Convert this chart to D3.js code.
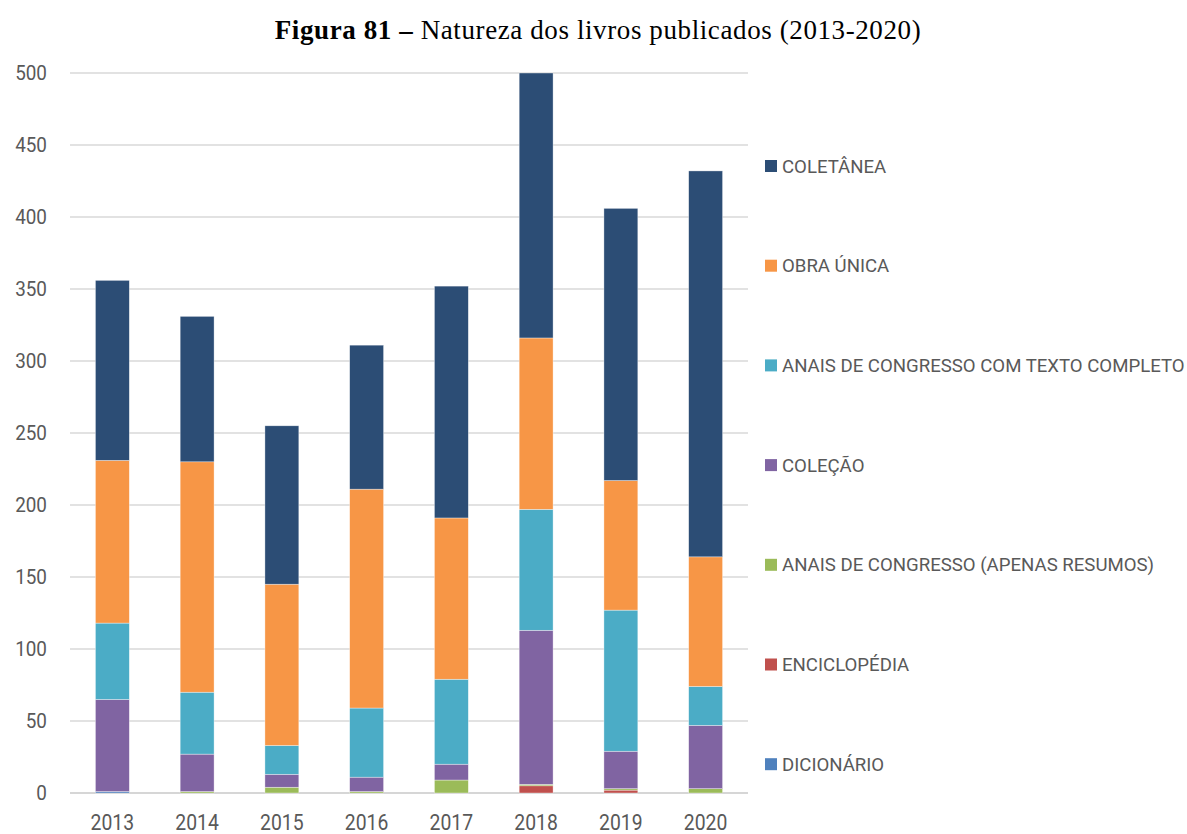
<!DOCTYPE html>
<html><head><meta charset="utf-8">
<script src="https://cdn.jsdelivr.net/npm/d3@7"></script>
<style>body{margin:0;background:#fff}</style>
</head><body>
<svg id="c" width="1187" height="834"></svg>
<script>
const years = ["2013","2014","2015","2016","2017","2018","2019","2020"];
const seriesNames = ["DICIONÁRIO","ENCICLOPÉDIA","ANAIS DE CONGRESSO (APENAS RESUMOS)","COLEÇÃO","ANAIS DE CONGRESSO COM TEXTO COMPLETO","OBRA ÚNICA","COLETÂNEA"];
const dicionario   = [1,0,0,0,0,0,0,0];
const enciclopedia = [0,0,0,0,0,5,2,0];
const anaisResumos = [0,1,4,1,9,1,1,3];
const colecao      = [64,26,9,10,11,107,26,44];
const anaisTexto   = [53,43,20,48,59,84,98,27];
const obraUnica    = [113,160,112,152,112,119,90,90];
const coletanea    = [125,101,110,100,161,184,189,268];
const yTicks = [0,50,100,150,200,250,300,350,400,450,500];
const colors = ["#4F81BD","#C0504D","#9BBB59","#8064A2","#4BACC6","#F79646","#2C4D75"];

const seriesVals = [dicionario,enciclopedia,anaisResumos,colecao,anaisTexto,obraUnica,coletanea];
const rows = years.map((y,i)=>{const r={year:y}; seriesNames.forEach((s,j)=>r[s]=seriesVals[j][i]); return r;});
const stack = d3.stack().keys(seriesNames)(rows);

const svg = d3.select("#c");
const L=70, R=748, T=73, B=793;
const x = d3.scaleBand().domain(years).range([L,R]).paddingInner(0.6).paddingOuter(0.3);
const y = d3.scaleLinear().domain([0,500]).range([B,T]);

const font = "Roboto, 'Noto Sans', sans-serif";

svg.append("g").selectAll("line").data(yTicks).join("line")
  .attr("x1",L).attr("x2",R).attr("y1",d=>y(d)).attr("y2",d=>y(d))
  .attr("stroke",d=>d===0?"#c8c8c8":"#d9d9d9").attr("stroke-width",1.5);

svg.append("g").selectAll("text").data(yTicks).join("text")
  .attr("x",47).attr("y",d=>y(d)).attr("dy","0.35em").attr("text-anchor","end")
  .attr("font-family",font).attr("font-size",21).attr("fill","#595959")
  .attr("transform",d=>`translate(47,0) scale(0.9,1) translate(-47,0)`)
  .text(d=>d);

svg.append("g").selectAll("g").data(stack).join("g")
  .attr("fill",(d,i)=>colors[i])
  .selectAll("rect").data(d=>d).join("rect")
  .attr("x",d=>x(d.data.year)).attr("width",x.bandwidth())
  .attr("y",d=>y(d[1])).attr("height",d=>Math.max(0,y(d[0])-y(d[1])))
  .attr("stroke","#fff").attr("stroke-opacity",0.6).attr("stroke-width",0.6);

svg.append("g").selectAll("text").data(years).join("text")
  .attr("x",d=>x(d)+x.bandwidth()/2).attr("y",822).attr("dy","0.35em").attr("text-anchor","middle")
  .attr("font-family",font).attr("font-size",22).attr("fill","#595959")
  .attr("transform",d=>{const cx=x(d)+x.bandwidth()/2;return `translate(${cx},0) scale(0.88,1) translate(${-cx},0)`;})
  .text(d=>d);

const legendOrder = seriesNames.map((s,i)=>({s,c:colors[i]})).reverse();
const lg = svg.append("g").selectAll("g").data(legendOrder).join("g")
  .attr("transform",(d,i)=>`translate(765,${166+i*99.7})`);
lg.append("rect").attr("x",0).attr("y",-6).attr("width",12).attr("height",12).attr("fill",d=>d.c);
lg.append("text").attr("x",17).attr("dy","0.35em")
  .attr("font-family",font).attr("font-size",19).attr("fill","#595959")
  .attr("transform","translate(17,0) scale(0.98,1) translate(-17,0)")
  .text(d=>d.s);

const t = svg.append("text").attr("x",598).attr("y",30).attr("dy","0.35em").attr("text-anchor","middle")
  .attr("font-family","'Liberation Serif', 'DejaVu Serif', serif").attr("font-size",27)
  .attr("letter-spacing",0.6).attr("fill","#000");
t.append("tspan").attr("font-weight","bold").text("Figura 81 – ");
t.append("tspan").text("Natureza dos livros publicados (2013-2020)");
</script>
</body></html>
